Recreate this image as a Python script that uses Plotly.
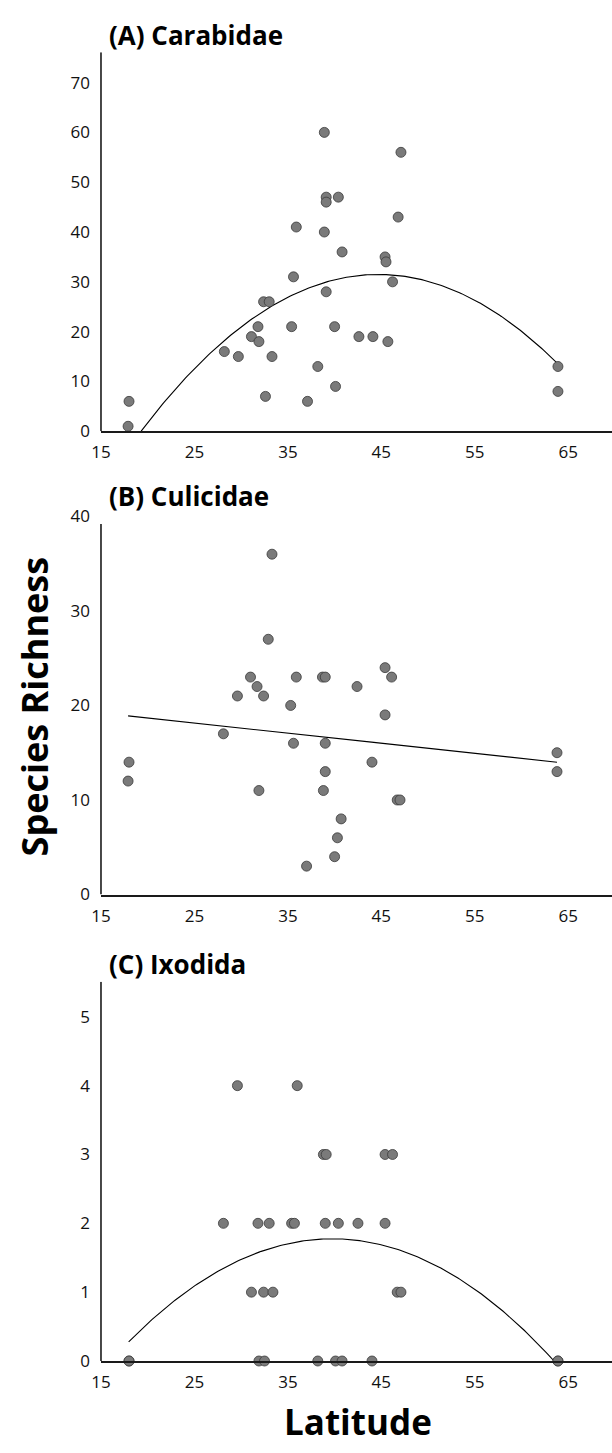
import numpy as np
import plotly.graph_objects as go

# ---------------- data ----------------
carab_lat = [18.0, 17.9, 28.2, 29.7, 31.1, 31.8, 31.9, 32.4, 33.0, 32.6, 33.3, 35.4, 35.6, 35.9,
             37.1, 38.2, 38.9, 39.1, 39.1, 38.9, 39.1, 40.0, 40.1, 40.4, 40.8, 42.6, 44.1, 45.4,
             45.5, 45.7, 46.2, 46.8, 47.1, 63.9, 63.9]
carab_rich = [6, 1, 16, 15, 19, 21, 18, 26, 26, 7, 15, 21, 31, 41,
              6, 13, 60, 47, 46, 40, 28, 21, 9, 47, 36, 19, 19, 35,
              34, 18, 30, 43, 56, 13, 8]

culic_lat = [18.0, 17.9, 28.1, 29.6, 31.0, 31.7, 32.4, 31.9, 32.9, 33.3, 35.3, 35.6, 35.9, 37.0,
             38.7, 39.0, 39.0, 39.0, 38.8, 40.0, 40.3, 40.7, 42.4, 44.0, 45.4, 45.4, 46.1,
             46.7, 47.0, 63.8, 63.8]
culic_rich = [14, 12, 17, 21, 23, 22, 21, 11, 27, 36, 20, 16, 23, 3,
              23, 23, 16, 13, 11, 4, 6, 8, 22, 14, 19, 24, 23,
              10, 10, 15, 13]

ixod_lat = [29.6, 36.0,
            38.8, 39.1, 45.4, 46.2,
            28.1, 31.8, 33.0, 35.4, 35.7, 39.0, 40.4, 42.5, 45.4,
            31.1, 32.4, 33.4, 46.7, 47.1,
            18.0, 18.0, 31.9, 32.5, 38.2, 40.1, 40.8, 44.0, 63.9, 63.9]
ixod_rich = [4, 4,
             3, 3, 3, 3,
             2, 2, 2, 2, 2, 2, 2, 2, 2,
             1, 1, 1, 1, 1,
             0, 0, 0, 0, 0, 0, 0, 0, 0, 0]

# fitted trend coefficients (highest power first) and x spans
carab_fit = [-0.04875, 4.358, -65.91]
carab_span = [19.3, 63.9]
culic_fit = [-0.1068, 20.81]
culic_span = [17.9, 63.8]
ixod_fit = [-0.00315, 0.250425, -3.2022]
ixod_span = [17.96, 63.49]

panel_titles = ["(A) Carabidae", "(B) Culicidae", "(C) Ixodida"]
x_ticks = [15, 25, 35, 45, 55, 65]

# ---------------- layout geometry ----------------
W, H = 612, 1453
def py(v):
    return 1 - v / H

panels = [
    dict(lat=carab_lat, rich=carab_rich, fit=carab_fit, span=carab_span,
         top=41, bottom=426, yr=[0, 76.07], line_top=76.07, dt=10, ty=23),
    dict(lat=culic_lat, rich=culic_rich, fit=culic_fit, span=culic_span,
         top=512.5, bottom=896.7, yr=[0, 40], line_top=39.2, dt=10, ty=492),
    dict(lat=ixod_lat, rich=ixod_rich, fit=ixod_fit, span=ixod_span,
         top=985.3, bottom=1370.7, yr=[0, 5.51], line_top=5.51, dt=1, ty=967),
]

fig = go.Figure()
font_family = "Open Sans"
annotations = []
shapes = []
for i, p in enumerate(panels):
    n = "" if i == 0 else str(i + 1)
    xa, ya = "x" + n, "y" + n
    xs = np.linspace(p["span"][0], p["span"][1], 200)
    ys = np.polyval(p["fit"], xs)
    fig.add_trace(go.Scatter(x=xs, y=ys, mode="lines",
                             line=dict(color="black", width=1.1),
                             xaxis=xa, yaxis=ya, showlegend=False, hoverinfo="skip"))
    fig.add_trace(go.Scatter(x=p["lat"], y=p["rich"], mode="markers",
                             marker=dict(size=10, color="#7a7a7a",
                                         line=dict(color="#3a3a3a", width=0.8)),
                             cliponaxis=False,
                             xaxis=xa, yaxis=ya, showlegend=False))
    fig.layout["xaxis" + n] = dict(
        domain=[92.5 / W, 1], range=[15, 15 + 519.5 / 9.5], anchor=ya,
        tickvals=x_ticks, ticks="", showline=True, linecolor="#1a1a1a", linewidth=1.6,
        showgrid=False, zeroline=False, ticklabelstandoff=5,
        tickfont=dict(family=font_family, size=17, color="#111"))
    fig.layout["yaxis" + n] = dict(
        domain=[py(p["bottom"]), py(p["top"])], range=p["yr"], anchor=xa,
        dtick=p["dt"], tick0=0, ticks="", showline=False,
        showgrid=False, zeroline=False, ticklabelstandoff=10,
        tickfont=dict(family=font_family, size=17, color="#111"))
    # vertical axis line (drawn up to where the original axis stops)
    shapes.append(dict(type="line", xref=xa + " domain", yref=ya,
                       x0=0, x1=0, y0=0, y1=p["line_top"],
                       line=dict(color="#1a1a1a", width=1.6), layer="above"))
    annotations.append(dict(text="<b>" + panel_titles[i] + "</b>", xref="paper", yref="paper",
                            x=99 / W, y=py(p["ty"]), xanchor="left", yanchor="middle",
                            showarrow=False,
                            font=dict(family=font_family, size=26, color="black")))

annotations.append(dict(text="<b>Species Richness</b>", xref="paper", yref="paper",
                        x=25 / W, y=py(706), xanchor="center", yanchor="middle",
                        textangle=-90, showarrow=False,
                        font=dict(family=font_family, size=36, color="black")))
annotations.append(dict(text="<b>Latitude</b>", xref="paper", yref="paper",
                        x=354 / W, y=py(1432), xanchor="center", yanchor="middle",
                        showarrow=False,
                        font=dict(family=font_family, size=35, color="black")))

fig.update_layout(width=W, height=H, margin=dict(l=0, r=0, t=0, b=0),
                  paper_bgcolor="white", plot_bgcolor="white",
                  annotations=annotations, shapes=shapes)

fig.write_html("out.html", config={"displayModeBar": False},
               post_script="document.body.style.margin='0';document.body.style.overflow='hidden';")
